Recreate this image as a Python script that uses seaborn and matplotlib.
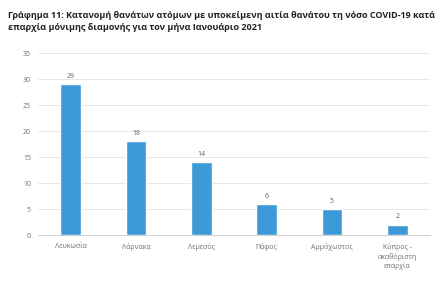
import matplotlib
matplotlib.use("Agg")
import matplotlib.pyplot as plt
import seaborn as sns
import pandas as pd

categories = ["Λευκωσία", "Λάρνακα", "Λεμεσός", "Πάφος", "Αμμόχωστος", "Κύπρος -\nακαθόριστη\nεπαρχία"]
deaths = [29, 18, 14, 6, 5, 2]
yticks = [0, 5, 10, 15, 20, 25, 30, 35]
title = ("Γράφημα 11: Κατανομή θανάτων ατόμων με υποκείμενη αιτία θανάτου τη νόσο COVID-19 κατά\n"
         "επαρχία μόνιμης διαμονής για τον μήνα Ιανουάριο 2021")

sns.set_theme(style="white")
plt.rcParams['font.family'] = ['Open Sans', 'DejaVu Sans']

df = pd.DataFrame({"cat": categories, "val": deaths})

fig = plt.figure(figsize=(4.45, 2.9), dpi=100)
ax = fig.add_axes([38/445, 1 - 235/290, (430 - 38)/445, (235 - 53)/290])
sns.barplot(data=df, x="cat", y="val", color="#3D9AD8", width=0.32, ax=ax, saturation=1)

ax.set_ylim(0, 35)
ax.set_yticks(yticks)
ax.set_xlim(-0.5, len(categories) - 0.5)
ax.grid(axis="y", color="#E3E3E3", linewidth=0.6)
ax.set_axisbelow(True)
for s in ["top", "right", "left"]:
    ax.spines[s].set_visible(False)
ax.spines["bottom"].set_color("#D0D0D0")
ax.spines["bottom"].set_linewidth(0.7)
ax.tick_params(axis="y", length=0, labelsize=5, colors="#707070", pad=5)
ax.tick_params(axis="x", length=0, labelsize=5, colors="#707070", pad=6)
ax.set_xlabel("")
ax.set_ylabel("")

for i, v in enumerate(deaths):
    ax.text(i, v + 0.8, str(v), ha="center", va="bottom", fontsize=5, color="#606060")

fig.text(8/445, 1 - 11/290, title, ha="left", va="top", fontsize=6.5, fontweight="bold",
         color="#222222", linespacing=1.4)

fig.savefig("out.png", dpi=100, facecolor="white")
